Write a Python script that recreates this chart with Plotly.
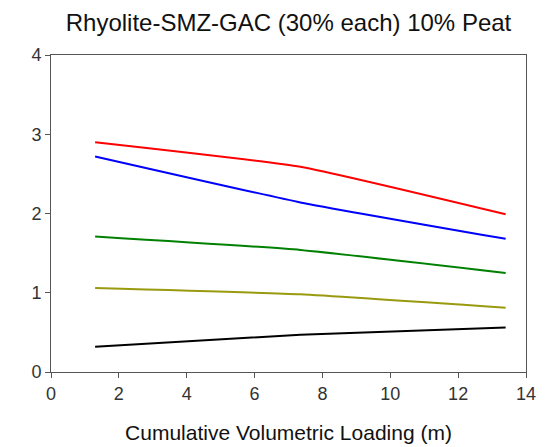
import plotly.graph_objects as go

# Cumulative volumetric loading (m) at each sampling point
loading_m = [1.3, 7.35, 13.4]

# Measured series, one per line colour
red_series = [2.90, 2.59, 1.99]
blue_series = [2.72, 2.14, 1.68]
green_series = [1.71, 1.54, 1.25]
olive_series = [1.06, 0.98, 0.81]
black_series = [0.32, 0.47, 0.56]

x_ticks = [0, 2, 4, 6, 8, 10, 12, 14]
y_ticks = [0, 1, 2, 3, 4]

series = [
    (red_series, "#ff0000"),
    (blue_series, "#0000ff"),
    (green_series, "#008000"),
    (olive_series, "#9a9a10"),
    (black_series, "#000000"),
]

fig = go.Figure()
for values, color in series:
    fig.add_trace(go.Scatter(
        x=loading_m, y=values, mode="lines",
        line=dict(color=color, width=2, shape="spline", smoothing=0.4),
        showlegend=False,
    ))

font_family = "Liberation Sans, Arial, sans-serif"

fig.update_layout(
    width=545, height=447,
    margin=dict(l=51, r=19, t=55, b=75, autoexpand=False),
    paper_bgcolor="white", plot_bgcolor="white",
    font=dict(family=font_family, color="#222222"),
    title=dict(
        text="Rhyolite-SMZ-GAC (30% each) 10% Peat",
        x=0.5, xref="paper", xanchor="center",
        y=1 - 23 / 447, yref="container", yanchor="middle",
        font=dict(size=24, color="#111111"),
    ),
)

fig.update_xaxes(
    range=[0, 14], tickvals=x_ticks, ticktext=[str(v) for v in x_ticks],
    showgrid=False, zeroline=False, automargin=False,
    showline=True, linecolor="#555555", linewidth=1, mirror=True,
    ticks="outside", ticklen=5, tickcolor="#555555",
    tickfont=dict(size=18, color="#333333"),
    title=dict(text="Cumulative Volumetric Loading (m)", font=dict(size=21, color="#111111"), standoff=22),
)
fig.update_yaxes(
    range=[0, 4], tickvals=y_ticks, ticktext=[str(v) for v in y_ticks],
    showgrid=False, zeroline=False, automargin=False,
    showline=True, linecolor="#555555", linewidth=1, mirror=True,
    ticks="outside", ticklen=5, tickcolor="#555555",
    tickfont=dict(size=18, color="#333333"),
)

fig.write_html("out.html")
